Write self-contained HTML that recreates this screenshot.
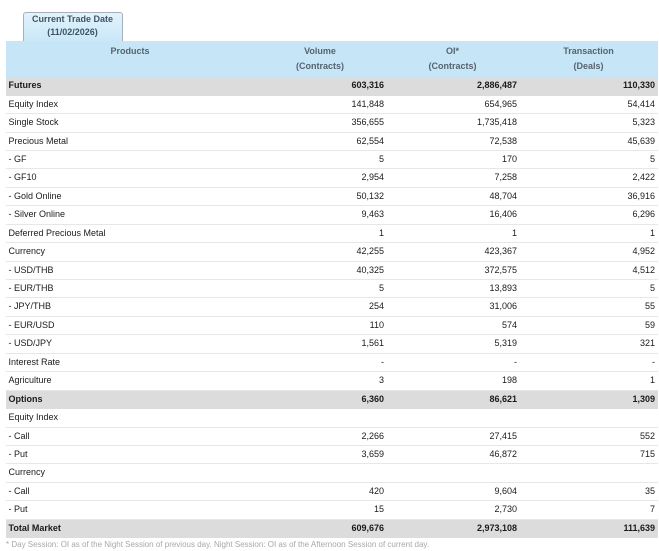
<!DOCTYPE html>
<html><head><meta charset="utf-8">
<style>
*{margin:0;padding:0;box-sizing:border-box}
html,body{width:659px;height:551px;background:#fff;overflow:hidden}
body{font-family:"Liberation Sans",Arial,sans-serif;font-size:9px;color:#1a1a1a;position:relative}
.tab{position:absolute;left:22.5px;top:11.5px;width:100px;height:30px;border:1px solid #a7b0b8;border-bottom:none;border-radius:3px 3px 0 0;background:linear-gradient(#e2f3fc,#c9e7f8);text-align:center;font-weight:bold;color:#3f5466;line-height:13px;padding-top:0.5px}
.hdr{position:absolute;left:6px;top:40.7px;width:652px;height:36.5px;background:#c6e6f8;display:flex;font-weight:bold;color:#56636e}
.hdr div{text-align:center;line-height:15px;padding-top:3px}
.c1{width:248px}.c2{width:132px}.c3{width:133px}.c4{width:139px}
.body{position:absolute;left:6px;top:77.2px;width:652px}
.r{display:flex;height:18.44px;border-bottom:1px solid #e7e7e7;line-height:16px}
.r.g{background:#dcdcdc;font-weight:bold;border-bottom-color:#dcdcdc}
.r div{white-space:nowrap}
.r .c1{padding-left:2.5px}
.r .c2{text-align:right;padding-right:2px}
.r .c3{text-align:right;padding-right:2px}
.r .c4{text-align:right;padding-right:3px}
.foot{position:absolute;left:6px;top:538.5px;font-size:8px;color:#a8a8a8;white-space:nowrap;line-height:11px}
</style></head><body>
<div class="tab">Current Trade Date<br>(11/02/2026)</div>
<div class="hdr">
<div class="c1">Products</div>
<div class="c2">Volume<br>(Contracts)</div>
<div class="c3">OI*<br>(Contracts)</div>
<div class="c4">Transaction<br>(Deals)</div>
</div>
<div class="body">
<div class="r g"><div class="c1">Futures</div><div class="c2">603,316</div><div class="c3">2,886,487</div><div class="c4">110,330</div></div>
<div class="r"><div class="c1">Equity Index</div><div class="c2">141,848</div><div class="c3">654,965</div><div class="c4">54,414</div></div>
<div class="r"><div class="c1">Single Stock</div><div class="c2">356,655</div><div class="c3">1,735,418</div><div class="c4">5,323</div></div>
<div class="r"><div class="c1">Precious Metal</div><div class="c2">62,554</div><div class="c3">72,538</div><div class="c4">45,639</div></div>
<div class="r"><div class="c1">- GF</div><div class="c2">5</div><div class="c3">170</div><div class="c4">5</div></div>
<div class="r"><div class="c1">- GF10</div><div class="c2">2,954</div><div class="c3">7,258</div><div class="c4">2,422</div></div>
<div class="r"><div class="c1">- Gold Online</div><div class="c2">50,132</div><div class="c3">48,704</div><div class="c4">36,916</div></div>
<div class="r"><div class="c1">- Silver Online</div><div class="c2">9,463</div><div class="c3">16,406</div><div class="c4">6,296</div></div>
<div class="r"><div class="c1">Deferred Precious Metal</div><div class="c2">1</div><div class="c3">1</div><div class="c4">1</div></div>
<div class="r"><div class="c1">Currency</div><div class="c2">42,255</div><div class="c3">423,367</div><div class="c4">4,952</div></div>
<div class="r"><div class="c1">- USD/THB</div><div class="c2">40,325</div><div class="c3">372,575</div><div class="c4">4,512</div></div>
<div class="r"><div class="c1">- EUR/THB</div><div class="c2">5</div><div class="c3">13,893</div><div class="c4">5</div></div>
<div class="r"><div class="c1">- JPY/THB</div><div class="c2">254</div><div class="c3">31,006</div><div class="c4">55</div></div>
<div class="r"><div class="c1">- EUR/USD</div><div class="c2">110</div><div class="c3">574</div><div class="c4">59</div></div>
<div class="r"><div class="c1">- USD/JPY</div><div class="c2">1,561</div><div class="c3">5,319</div><div class="c4">321</div></div>
<div class="r"><div class="c1">Interest Rate</div><div class="c2">-</div><div class="c3">-</div><div class="c4">-</div></div>
<div class="r"><div class="c1">Agriculture</div><div class="c2">3</div><div class="c3">198</div><div class="c4">1</div></div>
<div class="r g"><div class="c1">Options</div><div class="c2">6,360</div><div class="c3">86,621</div><div class="c4">1,309</div></div>
<div class="r"><div class="c1">Equity Index</div><div class="c2"></div><div class="c3"></div><div class="c4"></div></div>
<div class="r"><div class="c1">- Call</div><div class="c2">2,266</div><div class="c3">27,415</div><div class="c4">552</div></div>
<div class="r"><div class="c1">- Put</div><div class="c2">3,659</div><div class="c3">46,872</div><div class="c4">715</div></div>
<div class="r"><div class="c1">Currency</div><div class="c2"></div><div class="c3"></div><div class="c4"></div></div>
<div class="r"><div class="c1">- Call</div><div class="c2">420</div><div class="c3">9,604</div><div class="c4">35</div></div>
<div class="r"><div class="c1">- Put</div><div class="c2">15</div><div class="c3">2,730</div><div class="c4">7</div></div>
<div class="r g"><div class="c1">Total Market</div><div class="c2">609,676</div><div class="c3">2,973,108</div><div class="c4">111,639</div></div>
</div>
<div class="foot">* Day Session: OI as of the Night Session of previous day. Night Session: OI as of the Afternoon Session of current day.</div>
</body></html>
